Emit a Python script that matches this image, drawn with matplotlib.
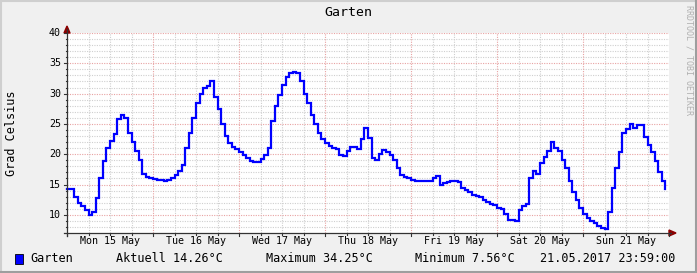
import numpy as np
import matplotlib
matplotlib.use("Agg")
import matplotlib.pyplot as plt
from matplotlib.patches import Rectangle, Polygon
from matplotlib.lines import Line2D

# ---------------- data ----------------
title = "Garten"
y_label = "Grad Celsius"
series_name = "Garten"
day_labels = ["Mon 15 May", "Tue 16 May", "Wed 17 May", "Thu 18 May",
              "Fri 19 May", "Sat 20 May", "Sun 21 May"]
legend_texts = ["Aktuell 14.26°C", "Maximum 34.25°C", "Minimum 7.56°C",
                "21.05.2017 23:59:00"]
watermark = "RRDTOOL / TOBI OETIKER"
y_ticks = [10, 15, 20, 25, 30, 35, 40]

# hourly temperatures, 15.05.2017 00:00 .. 21.05.2017 23:00
day1 = [14.3, 14.2, 13.0, 12.0, 11.5, 10.8, 9.9, 10.5, 12.8, 16.0, 18.8, 21.0,
        22.2, 23.3, 25.8, 26.4, 26.0, 23.5, 22.0, 20.5, 19.0, 16.8, 16.3, 16.1]
day2 = [15.9, 15.8, 15.7, 15.6, 15.8, 16.0, 16.5, 17.2, 18.3, 21.0, 23.5, 26.0,
        28.5, 30.0, 31.0, 31.3, 32.1, 29.5, 27.5, 25.0, 23.0, 21.8, 21.2, 20.8]
day3 = [20.3, 19.9, 19.3, 18.9, 18.7, 18.7, 19.2, 19.8, 21.0, 25.5, 28.0, 29.8,
        31.5, 32.8, 33.4, 33.6, 33.4, 32.0, 30.0, 28.5, 26.5, 25.0, 23.5, 22.5]
day4 = [21.8, 21.4, 21.1, 20.8, 19.9, 19.7, 20.6, 21.2, 21.2, 20.9, 22.5, 24.4,
        22.6, 19.3, 19.0, 20.0, 20.7, 20.4, 19.8, 19.0, 17.7, 16.6, 16.2, 16.0]
day5 = [15.7, 15.5, 15.5, 15.5, 15.5, 15.6, 16.0, 16.4, 15.0, 15.2, 15.4, 15.5,
        15.5, 15.4, 14.4, 14.1, 13.7, 13.3, 13.1, 13.0, 12.5, 12.1, 11.8, 11.6]
day6 = [11.2, 11.0, 10.1, 9.2, 9.2, 9.0, 10.8, 11.4, 11.8, 16.0, 17.2, 16.8,
        18.6, 19.6, 20.5, 22.0, 21.0, 20.5, 19.0, 17.8, 15.5, 13.8, 12.5, 11.2]
day7 = [10.2, 9.5, 8.9, 8.6, 8.2, 7.8, 7.6, 10.5, 14.5, 17.7, 20.3, 23.5,
        24.2, 25.0, 24.3, 24.8, 24.8, 22.8, 21.6, 20.3, 18.8, 17.0, 15.5, 14.26]
temps = np.array(day1 + day2 + day3 + day4 + day5 + day6 + day7)
hours = np.arange(len(temps))

# ---------------- layout helpers ----------------
W, H = 697, 273
fig = plt.figure(figsize=(W / 100, H / 100), dpi=100)
fig.patch.set_facecolor("#F0F0F0")

def fx(px):
    return px / W

def fy(py):
    return 1 - py / H

mono = "DejaVu Sans Mono"

# frame shading
fig.add_artist(Line2D([0, 1], [fy(0.5), fy(0.5)], color="#CFCFCF", lw=1.5, transform=fig.transFigure))
fig.add_artist(Line2D([fx(0.5), fx(0.5)], [0, 1], color="#CFCFCF", lw=1.5, transform=fig.transFigure))
fig.add_artist(Line2D([0, 1], [fy(272), fy(272)], color="#9E9E9E", lw=1.5, transform=fig.transFigure))
fig.add_artist(Line2D([fx(696), fx(696)], [0, 1], color="#9E9E9E", lw=1.5, transform=fig.transFigure))

x0, x1 = 67, 669
y0, y1 = 33, 233
ax = fig.add_axes([fx(x0), fy(y1), fx(x1) - fx(x0), fy(y0) - fy(y1)])
ax.set_facecolor("white")
ymin, ymax = 7, 40
ax.set_xlim(0, 168)
ax.set_ylim(ymin, ymax)
for s in ax.spines.values():
    s.set_visible(False)
ax.set_xticks([])
ax.set_yticks([])

# grid
minor_c = "#CFCFCF"
major_c = "#E8A3A3"
dots = (0, (1, 1.2))
for v in range(ymin + 1, ymax + 1):
    if v % 5 == 0:
        continue
    ax.axhline(v, color=minor_c, lw=0.8, ls=dots, zorder=1)
for h in range(6, 169, 6):
    if h % 24 == 0:
        continue
    ax.axvline(h, color=minor_c, lw=0.8, ls=dots, zorder=1)
for v in y_ticks:
    ax.axhline(v, color=major_c, lw=0.8, ls=dots, zorder=1.5)
for h in range(24, 168, 24):
    ax.axvline(h, color=major_c, lw=0.8, ls=dots, zorder=1.5)

# data
ax.step(hours, temps, where="post", color="#0000FF", lw=1.6, zorder=3,
        solid_joinstyle="miter", clip_on=False)

# axes lines
axis_c = "#333333"
fig.add_artist(Line2D([fx(x0), fx(x0)], [fy(236), fy(29)], color=axis_c, lw=0.9, transform=fig.transFigure))
fig.add_artist(Line2D([fx(64), fx(671)], [fy(y1), fy(y1)], color=axis_c, lw=0.9, transform=fig.transFigure))
arrow_c = "#8B0000"
fig.add_artist(Polygon([[fx(x0 - 3), fy(33)], [fx(x0 + 3), fy(33)], [fx(x0), fy(26)]],
                       closed=True, color=arrow_c, transform=fig.transFigure))
fig.add_artist(Polygon([[fx(669), fy(y1 - 3)], [fx(669), fy(y1 + 3)], [fx(676), fy(y1)]],
                       closed=True, color=arrow_c, transform=fig.transFigure))

# tick marks
for v in range(ymin + 1, ymax + 1):
    py = y1 - (v - ymin) / (ymax - ymin) * (y1 - y0)
    ln = 3 if v % 5 == 0 else 1.5
    fig.add_artist(Line2D([fx(x0 - ln), fx(x0)], [fy(py), fy(py)], color=axis_c, lw=0.8,
                          transform=fig.transFigure))
for h in range(0, 169, 6):
    px = x0 + h / 168 * (x1 - x0)
    ln = 3 if h % 24 == 0 else 1.5
    fig.add_artist(Line2D([fx(px), fx(px)], [fy(y1), fy(y1 + ln)], color=axis_c, lw=0.8,
                          transform=fig.transFigure))

# tick labels
for v in y_ticks:
    py = y1 - (v - ymin) / (ymax - ymin) * (y1 - y0)
    fig.text(fx(61), fy(py), str(v), ha="right", va="center", family=mono, fontsize=7.2)
for i, lab in enumerate(day_labels):
    px = x0 + (i * 24 + 12) / 168 * (x1 - x0)
    fig.text(fx(px), fy(241), lab, ha="center", va="center", family=mono, fontsize=7.2)

# title, y label, watermark
fig.text(fx(348), fy(13), title, ha="center", va="center", family=mono, fontsize=9.5)
fig.text(fx(12), fy(133), y_label, ha="center", va="center", rotation=90, family=mono, fontsize=8.5)
fig.text(fx(689), fy(5), watermark, ha="center", va="top", rotation=-90, family=mono,
         fontsize=6, color="#B0B0B0")

# legend
fig.add_artist(Rectangle((fx(15), fy(264)), fx(23) - fx(15), fy(254) - fy(264),
                         facecolor="#0000FF", edgecolor="#000000", lw=0.6, transform=fig.transFigure))
fig.text(fx(30), fy(259), series_name, ha="left", va="center", family=mono, fontsize=8.5)
for xpos, txt in zip([116, 266, 415, 540], legend_texts):
    fig.text(fx(xpos), fy(259), txt, ha="left", va="center", family=mono, fontsize=8.5)

fig.savefig("out.png", dpi=100, facecolor=fig.get_facecolor())
